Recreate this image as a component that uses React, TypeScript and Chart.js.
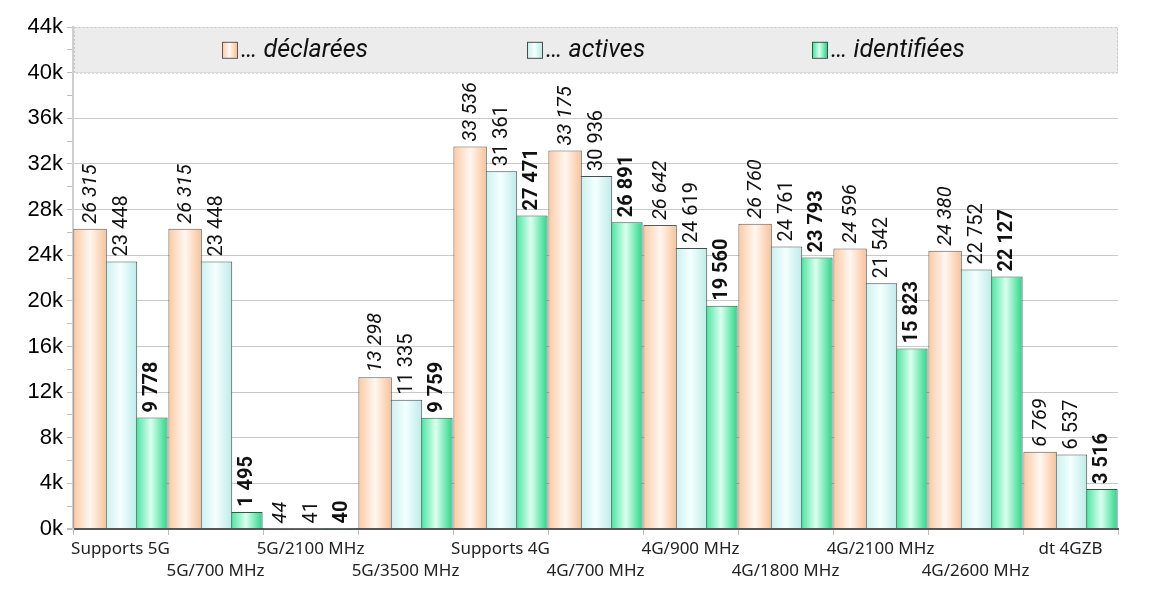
import { useEffect, useRef } from "react";
import { Chart, registerables } from "chart.js";

Chart.register(...registerables);

// données
const categories = [
  "Supports 5G",
  "5G/700 MHz",
  "5G/2100 MHz",
  "5G/3500 MHz",
  "Supports 4G",
  "4G/700 MHz",
  "4G/900 MHz",
  "4G/1800 MHz",
  "4G/2100 MHz",
  "4G/2600 MHz",
  "dt 4GZB",
];
const declarees = [26315, 26315, 44, 13298, 33536, 33175, 26642, 26760, 24596, 24380, 6769];
const actives = [23448, 23448, 41, 11335, 31361, 30936, 24619, 24761, 21542, 22752, 6537];
const identifiees = [9778, 1495, 40, 9759, 27471, 26891, 19560, 23793, 15823, 22127, 3516];
const seriesNames = ["… déclarées", "… actives", "… identifiées"];
const yMax = 44000;
const yStep = 2000;

const palettes = [
  { edge: "#fcc9a1", mid: "#fff7f1", edge2: "#f8c197", border: "#5a5a5a" },
  { edge: "#c4efed", mid: "#f4ffff", edge2: "#bdebe8", border: "#4a4a4a" },
  { edge: "#34e295", mid: "#dcfff0", edge2: "#28d687", border: "#2f5a46" },
];
const labelFonts = [
  "italic 20px Roboto",
  "20px Roboto",
  "bold 20px Roboto",
];
const legendX = [222, 527, 812];

const fmt = (n: number) => String(n).replace(/\B(?=(\d{3})+(?!\d))/g, " ");

function barGradient(ctx: CanvasRenderingContext2D, x0: number, x1: number, di: number) {
  const p = palettes[di];
  const g = ctx.createLinearGradient(x0, 0, x1, 0);
  g.addColorStop(0, p.edge);
  g.addColorStop(0.5, p.mid);
  g.addColorStop(1, p.edge2);
  return g;
}

const gradientBars = {
  id: "gradientBars",
  beforeDatasetsDraw(chart: any) {
    const { ctx, chartArea, scales } = chart;
    // bandeau de légende
    const top = scales.y.getPixelForValue(yMax);
    const bot = scales.y.getPixelForValue(40000);
    ctx.save();
    ctx.fillStyle = "#ececec";
    ctx.fillRect(chartArea.left + 1, top, chartArea.right - chartArea.left - 1, bot - top);
    ctx.strokeStyle = "#c4c4c4";
    ctx.lineWidth = 1;
    ctx.setLineDash([2, 2]);
    ctx.strokeRect(chartArea.left + 1.5, top + 0.5, chartArea.right - chartArea.left - 2, bot - top);
    ctx.setLineDash([]);
    const cy = (top + bot) / 2;
    seriesNames.forEach((name, di) => {
      const x = legendX[di];
      ctx.fillStyle = barGradient(ctx, x, x + 15, di);
      ctx.fillRect(x, cy - 8, 15, 16);
      ctx.strokeStyle = palettes[di].border;
      ctx.strokeRect(x + 0.5, cy - 7.5, 15, 16);
      ctx.fillStyle = "#111";
      ctx.font = "italic 25px Roboto";
      ctx.textAlign = "left";
      ctx.textBaseline = "middle";
      ctx.fillText(name, x + 19, cy + 1);
    });
    ctx.restore();

    chart.data.datasets.forEach((_ds: any, di: number) => {
      const meta = chart.getDatasetMeta(di);
      meta.data.forEach((el: any) => {
        const g = barGradient(ctx, el.x - el.width / 2, el.x + el.width / 2, di);
        el.options = { ...el.options, backgroundColor: g };
      });
    });
  },
  afterDatasetsDraw(chart: any) {
    const { ctx } = chart;
    chart.data.datasets.forEach((ds: any, di: number) => {
      const meta = chart.getDatasetMeta(di);
      meta.data.forEach((el: any, i: number) => {
        ctx.save();
        ctx.translate(el.x + 1, el.y - 5);
        ctx.rotate(-Math.PI / 2);
        ctx.font = labelFonts[di];
        ctx.fillStyle = "#111";
        ctx.textAlign = "left";
        ctx.textBaseline = "middle";
        ctx.fillText(fmt(ds.data[i]), 0, 0);
        ctx.restore();
      });
    });
  },
};

export default function App() {
  const canvasRef = useRef<HTMLCanvasElement | null>(null);

  useEffect(() => {
    document.body.style.margin = "0";
    const canvas = canvasRef.current;
    if (!canvas) return;

    const series = [declarees, actives, identifiees];
    const chart = new Chart(canvas, {
      type: "bar",
      data: {
        labels: categories,
        datasets: series.map((data, di) => ({
          label: seriesNames[di],
          data,
          borderWidth: 1,
          borderColor: palettes[di].border,
          backgroundColor: palettes[di].edge,
          categoryPercentage: 0.96,
          barPercentage: 1.1,
        })),
      },
      options: {
        animation: false,
        responsive: true,
        maintainAspectRatio: false,
        events: [],
        layout: { padding: { left: 8, right: 37, top: 27, bottom: 0 } },
        plugins: {
          legend: { display: false },
          tooltip: { enabled: false },
        },
        scales: {
          x: {
            grid: {
              offset: true,
              drawOnChartArea: false,
              tickLength: 6,
              color: "#bdbdbd",
            },
            border: { color: "#555", width: 2 },
            ticks: {
              autoSkip: false,
              maxRotation: 0,
              minRotation: 0,
              padding: 3,
              color: "#222",
              font: { family: "Noto Sans", size: 17, lineHeight: 1.3 },
              callback: (_v: any, i: number) =>
                i % 2 === 0 ? [categories[i], ""] : ["", categories[i]],
            },
            afterFit: (s: any) => {
              s.height = 63;
            },
          },
          y: {
            min: 0,
            max: yMax,
            border: { color: "#cfcfcf", width: 2 },
            grid: {
              tickLength: 6,
              tickColor: "#bdbdbd",
              color: (c: any) =>
                c.tick.value % 4000 !== 0
                  ? "rgba(0,0,0,0)"
                  : c.tick.value === 0
                    ? "#555"
                    : "#c8c8c8",
              lineWidth: (c: any) => (c.tick.value === 0 ? 2 : 1),
            },
            ticks: {
              stepSize: yStep,
              autoSkip: false,
              padding: 4,
              color: "#000",
              font: { family: "Liberation Sans", size: 22 },
              callback: (v: any) => (v % 4000 === 0 ? `${v / 1000}k` : ""),
            },
            afterFit: (s: any) => {
              s.width = 65;
            },
          },
        },
      },
      plugins: [gradientBars],
    });

    return () => {
      chart.destroy();
    };
  }, []);

  return (
    <div style={{ width: 1155, height: 592, position: "relative" }}>
      <canvas ref={canvasRef} />
    </div>
  );
}
